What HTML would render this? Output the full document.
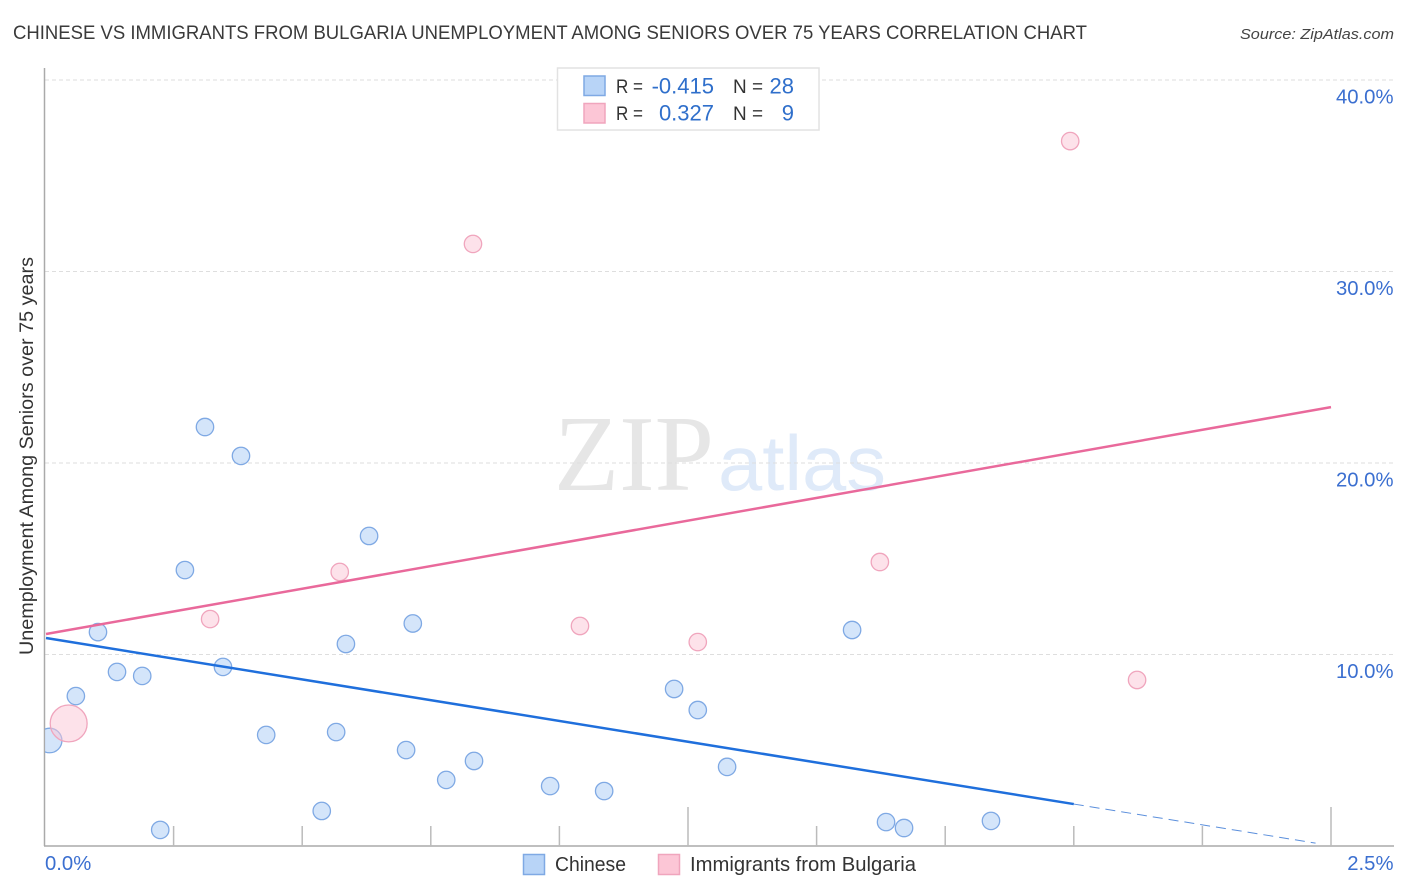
<!DOCTYPE html>
<html lang="en">
<head>
<meta charset="utf-8">
<title>Chinese vs Immigrants from Bulgaria Unemployment Correlation Chart</title>
<style>
html,body{margin:0;padding:0;background:#fff;width:1406px;height:892px;overflow:hidden}
svg{display:block;font-family:"Liberation Sans",sans-serif}
</style>
</head>
<body>
<svg id="chart" xmlns="http://www.w3.org/2000/svg" width="1406" height="892" viewBox="0 0 1406 892">
  <defs><clipPath id="plot-clip"><rect x="45" y="60" width="1349" height="786"/></clipPath></defs>
  <text x="13" y="39" font-size="19.5" fill="#3a3a3a" textLength="1074" lengthAdjust="spacingAndGlyphs">CHINESE VS IMMIGRANTS FROM BULGARIA UNEMPLOYMENT AMONG SENIORS OVER 75 YEARS CORRELATION CHART</text>
  <text x="1394" y="39" font-size="15" font-style="italic" fill="#444" text-anchor="end" textLength="154" lengthAdjust="spacingAndGlyphs">Source: ZipAtlas.com</text>
  <g>
    <text x="554" y="490" font-size="108" style="font-family:'Liberation Serif',serif" fill="#e6e6e6" textLength="160" lengthAdjust="spacingAndGlyphs">ZIP</text>
    <text x="718" y="490" font-size="78" style="font-family:'Liberation Sans',sans-serif" fill="#dfeaf9" textLength="168" lengthAdjust="spacingAndGlyphs">atlas</text>
  </g>
  <g id="grid"></g>
  <g id="axes"></g>
  <g id="points" clip-path="url(#plot-clip)"></g>
  <g id="trends"></g>
  <g id="labels"></g>
  <text transform="translate(33,456) rotate(-90)" font-size="19" fill="#333" text-anchor="middle" textLength="398" lengthAdjust="spacingAndGlyphs">Unemployment Among Seniors over 75 years</text>
  <g>
    <rect x="557.5" y="68" width="261.5" height="62" fill="#fff" stroke="#e2e2e2" stroke-width="1.5"/>
    <rect x="584" y="76" width="21" height="19.5" fill="#b8d4f7" stroke="#7fa9e4" stroke-width="1.5"/>
    <rect x="584" y="103.5" width="21" height="19.5" fill="#fcc6d6" stroke="#f0a5bd" stroke-width="1.5"/>
    <g font-size="19.5" fill="#333">
      <text x="616" y="93" textLength="27" lengthAdjust="spacingAndGlyphs">R =</text>
      <text x="733" y="93" textLength="30" lengthAdjust="spacingAndGlyphs">N =</text>
      <text x="616" y="120" textLength="27" lengthAdjust="spacingAndGlyphs">R =</text>
      <text x="733" y="120" textLength="30" lengthAdjust="spacingAndGlyphs">N =</text>
    </g>
    <g font-size="22" fill="#2f6fcb" text-anchor="end">
      <text x="714" y="93.5">-0.415</text>
      <text x="794" y="93.5">28</text>
      <text x="714" y="120.5">0.327</text>
      <text x="794" y="120.5">9</text>
    </g>
  </g>
  <g>
    <rect x="523.5" y="854.5" width="21" height="20" fill="#b8d4f7" stroke="#7fa9e4" stroke-width="1.5"/>
    <text x="555" y="871" font-size="20" fill="#333" textLength="71" lengthAdjust="spacingAndGlyphs">Chinese</text>
    <rect x="658.5" y="854.5" width="21" height="20" fill="#fcc6d6" stroke="#f0a5bd" stroke-width="1.5"/>
    <text x="690" y="871" font-size="20" fill="#333" textLength="226" lengthAdjust="spacingAndGlyphs">Immigrants from Bulgaria</text>
  </g>
</svg>
<script>
const yTickValues = [10, 20, 30, 40];
const yTickLabels = ["10.0%", "20.0%", "30.0%", "40.0%"];
const xTickValues = [0.25, 0.5, 0.75, 1, 1.25, 1.5, 1.75, 2, 2.25, 2.5];
const xMajorTicks = [1.25, 2.5];
const xEndValues = [0, 2.5];
const xEndLabels = ["0.0%", "2.5%"];

const chineseX = [0.009, 0.103, 0.140, 0.189, 0.060, 0.224, 0.272, 0.311, 0.381, 0.346, 0.430, 0.538, 0.566, 0.585, 0.630, 0.702, 0.715, 0.780, 0.834, 0.982, 1.087, 1.223, 1.269, 1.326, 1.569, 1.635, 1.670, 1.839];
const chineseY = [5.51, 11.17, 9.09, 8.88, 7.83, 0.84, 14.41, 21.88, 20.37, 9.35, 5.80, 1.83, 5.95, 10.55, 16.19, 5.01, 11.62, 3.45, 4.44, 3.13, 2.87, 8.20, 7.10, 4.13, 11.28, 1.25, 0.94, 1.31];
const chineseWeight = [2, 1, 1, 1, 1, 1, 1, 1, 1, 1, 1, 1, 1, 1, 1, 1, 1, 1, 1, 1, 1, 1, 1, 1, 1, 1, 1, 1];

const bulgariaX = [0.046, 0.321, 0.573, 0.832, 1.040, 1.269, 1.623, 1.993, 2.123];
const bulgariaY = [6.40, 11.85, 14.31, 31.44, 11.49, 10.65, 14.83, 36.81, 8.67];
const bulgariaWeight = [4.5, 1, 1, 1, 1, 1, 1, 1, 1];

const chineseTrendX = [0, 2];
const chineseTrendY = [10.86, 2.19];
const chineseTrendDashX = [2, 2.47];
const chineseTrendDashY = [2.19, 0.15];
const bulgariaTrendX = [0, 2.5];
const bulgariaTrendY = [11.07, 22.92];

const NS = 'http://www.w3.org/2000/svg';
function xScale(v) { return 45 + v * 514.4; }
function yScale(v) { return 846 - v * 19.15; }
function rScale(w) { return 8.7 * Math.sqrt(w); }
function make(parent, tag, attrs, text) {
  const el = document.createElementNS(NS, tag);
  for (const k in attrs) el.setAttribute(k, attrs[k]);
  if (text !== undefined) el.textContent = text;
  parent.appendChild(el);
  return el;
}
const grid = document.getElementById('grid');
const axes = document.getElementById('axes');
const pts = document.getElementById('points');
const trends = document.getElementById('trends');
const labels = document.getElementById('labels');

yTickValues.forEach(function (v, i) {
  const line = make(grid, 'line', {x1: 45, x2: 1394, y1: yScale(v), y2: yScale(v), stroke: '#dedede', 'stroke-width': 1, 'stroke-dasharray': '4 3'});
  
  
  const t = make(labels, 'text', {x: 1393.5, y: yScale(v) + 23.5, 'font-size': 20.3, fill: '#3b6fd0', 'text-anchor': 'end'}, yTickLabels[i]);
  
  
});

const yAxis = make(axes, 'line', {x1: 44.5, x2: 44.5, y1: 68, y2: 846, stroke: '#aaa', 'stroke-width': 1.5});


const xAxis = make(axes, 'line', {x1: 44, x2: 1394, y1: 846, y2: 846, stroke: '#aaa', 'stroke-width': 1.5});



xTickValues.forEach(function (v) {
  const top = xMajorTicks.indexOf(v) >= 0 ? 807 : 826;
  const tick = make(axes, 'line', {x1: xScale(v), x2: xScale(v), y1: top, y2: 846, stroke: '#bbb', 'stroke-width': 1.5});
  
  
});

xEndValues.forEach(function (v, i) {
  const t = make(labels, 'text', {x: i === 0 ? xScale(v) : 1393.5, y: 870, 'font-size': 20.3, fill: '#3b6fd0', 'text-anchor': i === 0 ? 'start' : 'end'}, xEndLabels[i]);
  
  
});

chineseX.forEach(function (v, i) {
  const c = make(pts, 'circle', {cx: xScale(v), cy: yScale(chineseY[i]), r: rScale(chineseWeight[i]), fill: '#b8d4f7', 'fill-opacity': 0.6, stroke: '#7fa9e4', 'stroke-width': 1.3});
  
  
});
bulgariaX.forEach(function (v, i) {
  const c = make(pts, 'circle', {cx: xScale(v), cy: yScale(bulgariaY[i]), r: rScale(bulgariaWeight[i]), fill: '#fcc6d6', 'fill-opacity': 0.5, stroke: '#f0a5bd', 'stroke-width': 1.3});
  
  
});

const chineseLine = make(trends, 'line', {x1: xScale(chineseTrendX[0]) + 1, y1: yScale(chineseTrendY[0]), x2: xScale(chineseTrendX[1]), y2: yScale(chineseTrendY[1]), stroke: '#1f6fdc', 'stroke-width': 2.5});


const chineseDash = make(trends, 'line', {x1: xScale(chineseTrendDashX[0]), y1: yScale(chineseTrendDashY[0]), x2: xScale(chineseTrendDashX[1]), y2: yScale(chineseTrendDashY[1]), stroke: '#5b8fdc', 'stroke-width': 1, 'stroke-dasharray': '10 6'});


const bulgariaLine = make(trends, 'line', {x1: xScale(bulgariaTrendX[0]) + 1, y1: yScale(bulgariaTrendY[0]), x2: xScale(bulgariaTrendX[1]), y2: yScale(bulgariaTrendY[1]), stroke: '#e9699b', 'stroke-width': 2.5});


</script>
</body>
</html>
